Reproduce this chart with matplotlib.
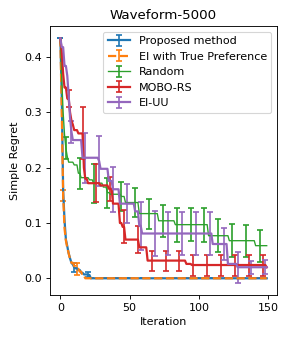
import numpy as np
import matplotlib
matplotlib.use('Agg')

import matplotlib.pyplot as plt


n_iter = 150
iters = np.arange(n_iter)

labels = ['Proposed method', 'EI with True Preference', 'Random', 'MOBO-RS', 'EI-UU']

# mean simple regret, as steps: (first iteration of step, value)
proposed_at = [0, 1, 2, 3, 4, 5, 6, 7, 8, 9, 10, 11, 13, 15, 17, 20, 22]
proposed_val = [0.434, 0.33, 0.16, 0.105, 0.07, 0.058, 0.045, 0.036, 0.028, 0.025,
                0.020, 0.018, 0.015, 0.010, 0.007, 0.006, 0.0]

true_pref_at = [0, 1, 2, 3, 4, 5, 6, 7, 8, 10, 12, 14, 16, 18]
true_pref_val = [0.434, 0.30, 0.15, 0.09, 0.068, 0.055, 0.045, 0.035, 0.028, 0.022,
                 0.017, 0.012, 0.005, 0.0]

random_at = [0, 1, 2, 3, 4, 5, 6, 10, 13, 15, 21, 24, 31, 34, 36, 44, 47, 57,
             71, 83, 107, 122, 141]
random_val = [0.434, 0.36, 0.30, 0.26, 0.235, 0.22, 0.21, 0.205, 0.19, 0.182, 0.178,
              0.172, 0.165, 0.155, 0.152, 0.148, 0.137, 0.117, 0.104, 0.097, 0.077,
              0.068, 0.059]

mobo_at = [0, 1, 2, 3, 5, 7, 8, 9, 10, 13, 17, 18, 20, 29, 35, 38, 43, 45, 47,
           57, 63, 91, 95, 149]
mobo_val = [0.434, 0.41, 0.37, 0.345, 0.325, 0.30, 0.285, 0.278, 0.268, 0.262,
            0.20, 0.18, 0.172, 0.168, 0.162, 0.135, 0.10, 0.093, 0.07, 0.056,
            0.032, 0.026, 0.024, 0.02]

eiuu_at = [0, 1, 3, 5, 6, 7, 8, 9, 16, 28, 29, 35, 38, 43, 54, 57, 59, 110, 121, 128]
eiuu_val = [0.434, 0.418, 0.384, 0.366, 0.33, 0.29, 0.265, 0.25, 0.218, 0.212,
            0.198, 0.176, 0.161, 0.135, 0.121, 0.095, 0.081, 0.062, 0.026, 0.02]

# error bar half widths at the iterations where bars are shown
proposed_err_at = [10, 20]
proposed_err = [0.008, 0.0045]
true_pref_err_at = [2, 12]
true_pref_err = [0.01, 0.011]
random_err_at = [4, 14, 24, 34, 44, 54, 64, 74, 84, 94, 104, 114, 124, 134, 144]
random_err = [0.02, 0.028, 0.035, 0.027, 0.027, 0.027, 0.027, 0.029, 0.031,
              0.03, 0.031, 0.03, 0.03, 0.029, 0.029]
mobo_err_at = [6, 16, 26, 36, 46, 56, 66, 76, 86, 96, 106, 116, 126, 136, 146]
mobo_err = [0.015, 0.047, 0.034, 0.022, 0.03, 0.025, 0.018, 0.018, 0.018, 0.019,
            0.019, 0.019, 0.019, 0.019, 0.019]
eiuu_err_at = [8, 18, 28, 38, 48, 58, 68, 78, 88, 98, 108, 118, 128, 138, 148]
eiuu_err = [0.02, 0.045, 0.045, 0.041, 0.035, 0.043, 0.04, 0.038, 0.038, 0.038,
            0.038, 0.029, 0.028, 0.012, 0.013]


def steps(starts, vals):
    lengths = np.diff(list(starts) + [n_iter])
    return np.repeat(vals, lengths)


def err_array(at, half):
    e = np.zeros(n_iter)
    e[at] = half
    return e


series = [
    (steps(proposed_at, proposed_val), err_array(proposed_err_at, proposed_err), 'tab:blue', '-', 2.0),
    (steps(true_pref_at, true_pref_val), err_array(true_pref_err_at, true_pref_err), 'tab:orange', '--', 2.0),
    (steps(random_at, random_val), err_array(random_err_at, random_err), 'tab:green', '-', 1.2),
    (steps(mobo_at, mobo_val), err_array(mobo_err_at, mobo_err), 'tab:red', '-', 2.0),
    (steps(eiuu_at, eiuu_val), err_array(eiuu_err_at, eiuu_err), 'tab:purple', '-', 2.0),
]

fig = plt.figure(figsize=(291 / 80, 339 / 80), dpi=80)
ax = fig.add_subplot(111)
fig.subplots_adjust(left=0.172, right=0.952, bottom=0.13, top=0.923)

for i, (y, e, col, ls, lw) in enumerate(series):
    ax.errorbar(iters, y, yerr=e, errorevery=(2 * i, 10), color=col, ls=ls, lw=lw,
                elinewidth=1.5, capsize=2.5, capthick=1.5, label=labels[i])

ax.set_xticks([0, 50, 100, 150])
ax.set_yticks([0.0, 0.1, 0.2, 0.3, 0.4])
ax.set_xlabel('Iteration')
ax.set_ylabel('Simple Regret')
ax.set_title('Waveform-5000')
ax.legend(loc='upper right')

plt.savefig('out.png', dpi=80)
